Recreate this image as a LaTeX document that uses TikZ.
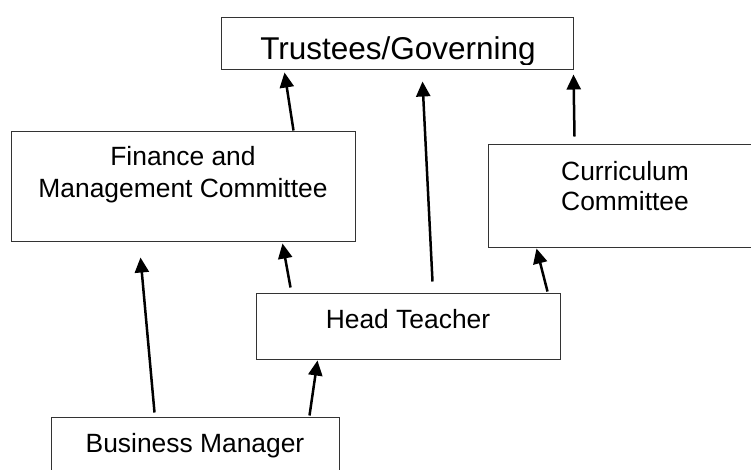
\documentclass[tikz,border=0pt]{standalone}
\usepackage{fontspec}
\setmainfont{Liberation Sans}
\usetikzlibrary{arrows.meta}
\begin{document}
\begin{tikzpicture}[x=1pt,y=-1pt,
  box/.style={draw=black!80,line width=1pt,rectangle,inner sep=0pt},
  lbl/.style={anchor=base,inner sep=0pt,font=\fontsize{26.4}{31.7}\selectfont},
  link/.style={line width=2.5pt,-{Triangle[length=15pt,width=14pt]}}]
\clip (0,0) rectangle (751,469);
% boxes
\node[box,minimum width=352pt,minimum height=52pt] (tr) at (397,43) {};
\node[box,minimum width=344pt,minimum height=110pt] (fin) at (183,186) {};
\node[box,minimum width=274pt,minimum height=103pt] (cur) at (625,195.5) {};
\node[box,minimum width=304pt,minimum height=66pt] (head) at (408,326) {};
\node[box,minimum width=288pt,minimum height=66pt] (bm) at (195,450) {};
% labels
\begin{scope}
  \clip (222,18) rectangle (572,64);
  \node[lbl,font=\fontsize{31.5}{37}\selectfont] (trtext) at (398,59) {Trustees/Governing};
\end{scope}
\node[lbl] (fintext1) at (183,165) {Finance and};
\node[lbl] (fintext2) at (183,197) {Management Committee};
\node[lbl] (curtext1) at (625,180) {Curriculum};
\node[lbl] (curtext2) at (625,210) {Committee};
\node[lbl] (headtext) at (408,328) {Head Teacher};
\node[lbl] (bmtext) at (195,452) {Business Manager};
% reporting lines
\draw[link] ([xshift=283pt]fin.north west) -- ([xshift=64pt,yshift=-3pt]tr.south west);
\draw[link] ([xshift=177pt,yshift=11pt]head.north west) -- ([xshift=202pt,yshift=-12pt]tr.south west);
\draw[link] ([xshift=87pt,yshift=7pt]cur.north west) -- ([yshift=-5pt]tr.south east);
\draw[link] ([xshift=104pt,yshift=4pt]bm.north west) -- ([xshift=130pt,yshift=-16pt]fin.south west);
\draw[link] ([xshift=35pt,yshift=5pt]head.north west) -- ([xshift=272pt,yshift=-2pt]fin.south west);
\draw[link] ([xshift=-13pt,yshift=1pt]head.north east) -- ([xshift=49pt,yshift=-1pt]cur.south west);
\draw[link] ([xshift=259pt,yshift=1pt]bm.north west) -- ([xshift=62pt,yshift=-1pt]head.south west);
\end{tikzpicture}
\end{document}
